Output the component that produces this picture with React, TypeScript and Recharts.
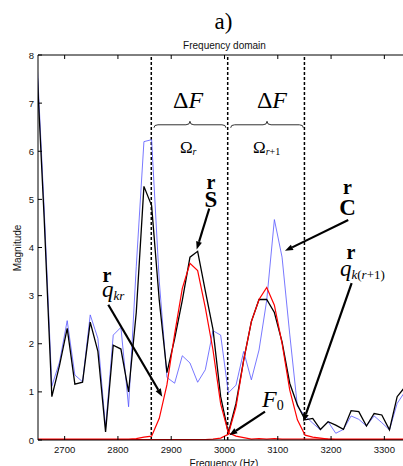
import React from 'react';
import { LineChart, Line, XAxis, YAxis, ReferenceLine, ReferenceDot } from 'recharts';

// ---- data ----
const freqHz = [
  2647.2, 2661.6, 2676.0, 2690.4, 2704.8, 2719.2, 2733.6, 2748.0, 2762.4, 2776.8,
  2791.2, 2805.6, 2820.0, 2834.4, 2848.8, 2863.2, 2877.6, 2892.0, 2906.4, 2920.8,
  2935.2, 2949.6, 2964.0, 2978.4, 2992.8, 3007.2, 3021.6, 3036.0, 3050.4, 3064.8,
  3079.2, 3093.6, 3108.0, 3122.4, 3136.8, 3151.2, 3165.6, 3180.0, 3194.4, 3208.8,
  3223.2, 3237.6, 3252.0, 3266.4, 3280.8, 3295.2, 3309.6, 3324.0, 3338.4,
];
// black: sum
const sumMag = [
  7.9, 4.6, 0.9, 1.55, 2.32, 1.16, 1.2, 2.45, 1.84, 0.17,
  1.97, 1.89, 1.0, 2.65, 5.27, 4.87, 2.9, 1.4, 2.1, 2.9,
  3.8, 3.92, 3.1, 2.3, 0.9, 0.15, 0.76, 1.66, 2.46, 2.92,
  2.92, 2.65, 2.04, 1.18, 0.73, 0.42, 0.45, 0.22, 0.38, 0.31,
  0.22, 0.61, 0.59, 0.29, 0.55, 0.52, 0.21, 0.9, 1.1,
];
// blue: spectrum
const specMag = [
  8.1, 4.8, 1.12, 1.62, 2.48, 1.35, 1.21, 2.6, 2.11, 0.25,
  2.18, 2.34, 0.69, 3.6, 6.2, 6.24, 3.3, 1.3, 1.18, 1.75,
  1.6, 1.2, 1.46, 2.27, 2.18, 0.98, 1.14, 1.84, 1.25, 1.87,
  2.9, 4.58, 3.8, 2.2, 0.7, 0.5, 0.35, 0.21, 0.38, 0.14,
  0.22, 0.5, 0.43, 0.29, 0.5, 0.36, 0.21, 0.76, 1.0,
];
// red: component r
const compR = [
  0.02, 0.02, 0.02, 0.02, 0.02, 0.02, 0.02, 0.02, 0.02, 0.02,
  0.02, 0.02, 0.02, 0.03, 0.06, 0.08, 0.45, 1.15, 2.2, 3.15,
  3.67, 3.52, 2.75, 1.87, 0.75, 0.15, 0.08, 0.05, 0.02, 0.03,
  0.02, 0.03, 0.02, 0.02, 0.02, 0.02, 0.02, 0.02, 0.02, 0.02,
  0.02, 0.02, 0.02, 0.02, 0.02, 0.02, 0.02, 0.02, 0.02,
];
// red: component r+1
const compR1 = [
  0.01, 0.01, 0.01, 0.01, 0.01, 0.01, 0.01, 0.01, 0.01, 0.01,
  0.01, 0.01, 0.01, 0.01, 0.01, 0.01, 0.01, 0.01, 0.01, 0.01,
  0.01, 0.01, 0.01, 0.02, 0.04, 0.12, 0.69, 1.66, 2.46, 2.92,
  3.17, 2.8, 2.01, 1.04, 0.42, 0.1, 0.06, 0.04, 0.02, 0.01,
  0.01, 0.01, 0.01, 0.01, 0.01, 0.01, 0.01, 0.01, 0.01,
];
const xTicks = [2700, 2800, 2900, 3000, 3100, 3200, 3300];
const yTicks = [0, 1, 2, 3, 4, 5, 6, 7, 8];
const bandEdges = [2862.6, 3006, 3150];

const rows = freqHz.map((f, i) => ({ f, k: sumMag[i], b: specMag[i], r1: compR[i], r2: compR1[i] }));

const SANS = '"Liberation Sans", Arial, sans-serif';
const SERIF = '"Liberation Serif", "Times New Roman", serif';

const BottomTick = (p: any) => {
  const { x, y, payload } = p;
  return (
    <g>
      <line x1={x} x2={x} y1={y} y2={y - 4} stroke="#000" strokeWidth={1} />
      <text x={x} y={y + 13} textAnchor="middle" fontSize={9.5} fontFamily={SANS} fill="#111">{payload.value}</text>
    </g>
  );
};
const TopTick = (p: any) => {
  const { x, y } = p;
  return <line x1={x} x2={x} y1={y} y2={y + 4} stroke="#000" strokeWidth={1} />;
};
const LeftTick = (p: any) => {
  const { x, y, payload } = p;
  return (
    <g>
      <line x1={x} x2={x + 4} y1={y} y2={y} stroke="#000" strokeWidth={1} />
      <text x={x - 4} y={y + 3.5} textAnchor="end" fontSize={9.5} fontFamily={SANS} fill="#111">{payload.value}</text>
    </g>
  );
};

const Arrow = (p: any) => {
  const { x1, y1, x2, y2 } = p;
  const ang = Math.atan2(y2 - y1, x2 - x1);
  const L = 8, W = 3;
  const bx = x2 - L * Math.cos(ang), by = y2 - L * Math.sin(ang);
  const px = -Math.sin(ang) * W, py = Math.cos(ang) * W;
  return (
    <g>
      <line x1={x1} y1={y1} x2={bx} y2={by} stroke="#000" strokeWidth={2.2} />
      <polygon points={`${x2},${y2} ${bx + px},${by + py} ${bx - px},${by - py}`} fill="#000" />
    </g>
  );
};

const Brace = (p: any) => {
  const { x1, y1, x2 } = p;
  const y = y1;
  const xm = (x1 + x2) / 2;
  const d = `M${x1},${y + 3} Q${x1},${y} ${x1 + 4},${y} L${xm - 4},${y} Q${xm},${y} ${xm},${y - 3.5} Q${xm},${y} ${xm + 4},${y} L${x2 - 4},${y} Q${x2},${y} ${x2},${y + 3}`;
  return <path d={d} fill="none" stroke="#333" strokeWidth={1} />;
};

const txt = (content: React.ReactNode, anchor: 'start' | 'middle' = 'middle') => (p: any) => (
  <text x={p.cx} y={p.cy} textAnchor={anchor} fontFamily={SERIF} fill="#000">{content}</text>
);

const vecR = txt(<tspan fontWeight="bold" fontSize={20}>r</tspan>);
const deltaF = txt(<><tspan fontSize={24}>Δ</tspan><tspan fontSize={24} fontStyle="italic">F</tspan></>);
const omegaR = txt(<><tspan fontSize={17}>Ω</tspan><tspan fontSize={10} fontStyle="italic" dy={2}>r</tspan></>, 'start');
const omegaR1 = txt(<><tspan fontSize={17}>Ω</tspan><tspan fontSize={10} fontStyle="italic" dy={2}>r</tspan><tspan fontSize={10}>+1</tspan></>, 'start');
const boldS = txt(<tspan fontWeight="bold" fontSize={23}>S</tspan>);
const boldC = txt(<tspan fontWeight="bold" fontSize={23}>C</tspan>);
const qkr = txt(<><tspan fontStyle="italic" fontSize={23}>q</tspan><tspan fontStyle="italic" fontSize={13} dy={3}>kr</tspan></>, 'start');
const qkr1 = txt(<><tspan fontStyle="italic" fontSize={23}>q</tspan><tspan fontStyle="italic" fontSize={13} dy={3}>k</tspan><tspan fontSize={13}>(</tspan><tspan fontStyle="italic" fontSize={13}>r</tspan><tspan fontSize={13}>+1)</tspan></>, 'start');
const fZero = txt(<><tspan fontStyle="italic" fontSize={24}>F</tspan><tspan fontSize={14} dy={3}>0</tspan></>, 'start');

const ax = { xAxisId: 'b', yAxisId: 'l' } as const;

export default function App() {
  return (
    <div style={{ position: 'absolute', left: 0, top: 0, width: 403, height: 466, overflow: 'hidden', background: '#fff' }}>
      <LineChart width={411} height={466} data={rows} margin={{ top: 54, right: 0, bottom: 0, left: 0 }}>
        <XAxis xAxisId="t" orientation="top" dataKey="f" type="number" domain={[2650, 3350]} allowDataOverflow
          ticks={xTicks} interval={0} height={1} tickSize={0} tickMargin={0} tickLine={false}
          axisLine={{ stroke: '#000', strokeWidth: 1 }} tick={<TopTick />} />
        <XAxis xAxisId="b" dataKey="f" type="number" domain={[2650, 3350]} allowDataOverflow
          ticks={xTicks} interval={0} height={26} tickSize={0} tickMargin={0} tickLine={false}
          axisLine={{ stroke: '#000', strokeWidth: 1 }} tick={<BottomTick />} />
        <YAxis yAxisId="l" type="number" domain={[0, 8]} allowDataOverflow ticks={yTicks} interval={0}
          width={38} tickSize={0} tickMargin={0} tickLine={false}
          axisLine={{ stroke: '#000', strokeWidth: 1 }} tick={<LeftTick />} />

        {bandEdges.map((e) => (
          <ReferenceLine key={e} {...ax} x={e} stroke="#000" strokeWidth={1.5} strokeDasharray="3 2" />
        ))}

        <Line {...ax} dataKey="b" stroke="#5656ff" strokeWidth={0.8} dot={false} isAnimationActive={false} />
        <Line {...ax} dataKey="k" stroke="#000" strokeWidth={1.3} dot={false} isAnimationActive={false} />
        <Line {...ax} dataKey="r1" stroke="#ff0000" strokeWidth={1.2} dot={false} isAnimationActive={false} />
        <Line {...ax} dataKey="r2" stroke="#ff0000" strokeWidth={1.2} dot={false} isAnimationActive={false} />

        <ReferenceLine {...ax} segment={[{ x: 2867.6, y: 6.55 }, { x: 3002.7, y: 6.55 }]} shape={Brace} />
        <ReferenceLine {...ax} segment={[{ x: 3011.6, y: 6.55 }, { x: 3148, y: 6.55 }]} shape={Brace} />

        <ReferenceLine {...ax} segment={[{ x: 2781.9, y: 2.81 }, { x: 2883.2, y: 0.9 }]} shape={Arrow} />
        <ReferenceLine {...ax} segment={[{ x: 2971.4, y: 4.81 }, { x: 2947.8, y: 3.96 }]} shape={Arrow} />
        <ReferenceLine {...ax} segment={[{ x: 3232.2, y: 4.57 }, { x: 3113.5, y: 3.93 }]} shape={Arrow} />
        <ReferenceLine {...ax} segment={[{ x: 3238.6, y: 3.26 }, { x: 3147.8, y: 0.38 }]} shape={Arrow} />
        <ReferenceLine {...ax} segment={[{ x: 3076, y: 0.59 }, { x: 3009, y: 0.1 }]} shape={Arrow} />

        <ReferenceDot {...ax} x={2931.5} y={6.9} r={0} shape={deltaF} />
        <ReferenceDot {...ax} x={3089.1} y={6.9} r={0} shape={deltaF} />
        <ReferenceDot {...ax} x={2916.4} y={5.96} r={0} shape={omegaR} />
        <ReferenceDot {...ax} x={3053.5} y={5.96} r={0} shape={omegaR1} />

        <ReferenceDot {...ax} x={2974.6} y={5.22} r={0} shape={vecR} />
        <ReferenceDot {...ax} x={2974.6} y={4.84} r={0} shape={boldS} />
        <ReferenceDot {...ax} x={3230.8} y={5.12} r={0} shape={vecR} />
        <ReferenceDot {...ax} x={3230.8} y={4.68} r={0} shape={boldC} />
        <ReferenceDot {...ax} x={3237.4} y={3.77} r={0} shape={vecR} />
        <ReferenceDot {...ax} x={3216.7} y={3.41} r={0} shape={qkr1} />
        <ReferenceDot {...ax} x={2779.5} y={3.29} r={0} shape={vecR} />
        <ReferenceDot {...ax} x={2770.1} y={2.97} r={0} shape={qkr} />
        <ReferenceDot {...ax} x={3070.3} y={0.686} r={0} shape={fZero} />
      </LineChart>
      <svg width={403} height={466} style={{ position: 'absolute', left: 0, top: 0, pointerEvents: 'none' }}>
        <text x={223.5} y={29} textAnchor="middle" fontFamily={SERIF} fontSize={23} fill="#000">a)</text>
        <text x={224.5} y={49} textAnchor="middle" fontFamily={SANS} fontSize={10} fill="#111">Frequency domain</text>
        <text x={21} y={248} textAnchor="middle" fontFamily={SANS} fontSize={10} fill="#111" transform="rotate(-90 21 248)">Magnitude</text>
        <text x={224} y={467} textAnchor="middle" fontFamily={SANS} fontSize={10} fill="#111">Frequency (Hz)</text>
      </svg>
    </div>
  );
}
